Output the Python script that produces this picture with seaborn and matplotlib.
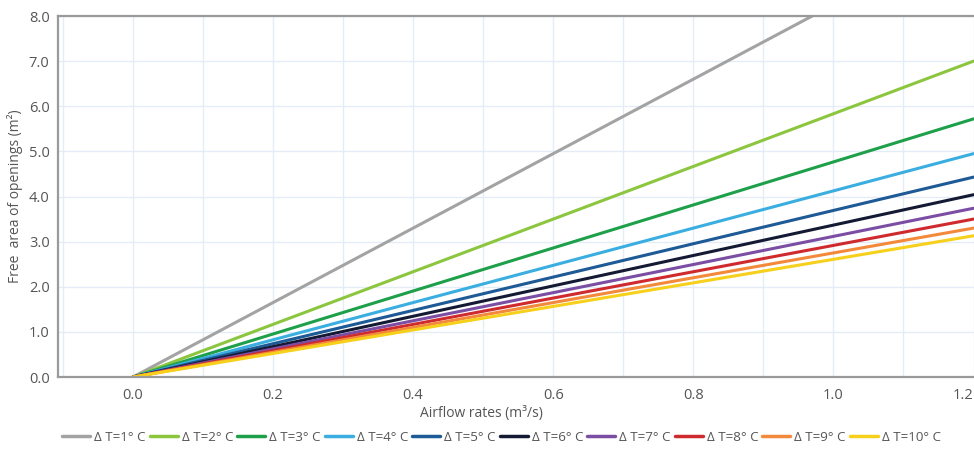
import numpy as np
import pandas as pd
import matplotlib
matplotlib.use("Agg")
import matplotlib.pyplot as plt
import seaborn as sns

# Data: straight lines from the origin to x = 1.2
airflow = [0.0, 1.2]
series_labels = ["Δ T=1° C", "Δ T=2° C", "Δ T=3° C", "Δ T=4° C", "Δ T=5° C",
                 "Δ T=6° C", "Δ T=7° C", "Δ T=8° C", "Δ T=9° C", "Δ T=10° C"]
end_values = [9.90, 7.00, 5.72, 4.95, 4.43, 4.04, 3.74, 3.50, 3.30, 3.13]
colors = ["#a3a3a3", "#8cc63f", "#1ea04a", "#3aaee0", "#1d5a96",
          "#141a33", "#7b4ea3", "#cf2a2e", "#f3893a", "#f6d01a"]
x_ticks = [0.0, 0.2, 0.4, 0.6, 0.8, 1.0, 1.2]
x_tick_labels = ["0.0", "0.2", "0.4", "0.6", "0.8", "1.0", "1.2"]
y_ticks = [0, 1, 2, 3, 4, 5, 6, 7, 8]
y_tick_labels = ["0.0", "1.0", "2.0", "3.0", "4.0", "5.0", "6.0", "7.0", "8.0"]

rows = []
for lab, v in zip(series_labels, end_values):
    rows.append({"x": airflow[0], "y": 0.0, "series": lab})
    rows.append({"x": airflow[1], "y": v, "series": lab})
df = pd.DataFrame(rows)

sns.set_theme(style="white")
plt.rcParams["font.family"] = ["Open Sans", "DejaVu Sans"]

fig = plt.figure(figsize=(9.74, 4.51), dpi=100)
ax = fig.add_axes([0.0595, 0.164, 0.94, 0.8005])

sns.lineplot(data=df, x="x", y="y", hue="series", palette=colors,
             hue_order=series_labels, linewidth=2.2, ax=ax, legend=True)

ax.set_xlim(-0.107, 1.2)
ax.set_ylim(0, 8)
ax.set_xticks(x_ticks)
ax.set_xticklabels(x_tick_labels)
ax.set_xticks(np.arange(-0.1, 1.21, 0.1), minor=True)
ax.set_yticks(y_ticks)
ax.set_yticklabels(y_tick_labels)
ax.grid(True, which="both", axis="x", color="#e3ecf7", linewidth=1)
ax.grid(True, which="major", axis="y", color="#e3ecf7", linewidth=1)
ax.set_axisbelow(True)
ax.tick_params(axis="both", which="both", length=0, labelsize=10.5,
               labelcolor="#555555", pad=6)
ax.tick_params(axis="x", pad=8)
xt = ax.get_xticklabels()
xt[-1].set_horizontalalignment("right")

for side in ["left", "top", "bottom"]:
    ax.spines[side].set_color("#9a9a9a")
    ax.spines[side].set_linewidth(1.6)
ax.spines["right"].set_visible(False)

ax.set_xlabel("Airflow rates (m³/s)", fontsize=10, color="#555555")
ax.xaxis.set_label_coords(0.463, -0.08)
ax.set_ylabel("Free  area of openings (m²)", fontsize=10, color="#555555", labelpad=4)

handles, labels = ax.get_legend_handles_labels()
ax.get_legend().remove()
leg = fig.legend(handles, labels, loc="center", bbox_to_anchor=(0.515, 0.031), ncol=10,
                 frameon=False, fontsize=9.6, handlelength=2.1, handletextpad=0.3,
                 columnspacing=0.3, labelcolor="#555555", borderaxespad=0)
for line in leg.get_lines():
    line.set_linewidth(2.5)

fig.savefig("out.png", dpi=100)
